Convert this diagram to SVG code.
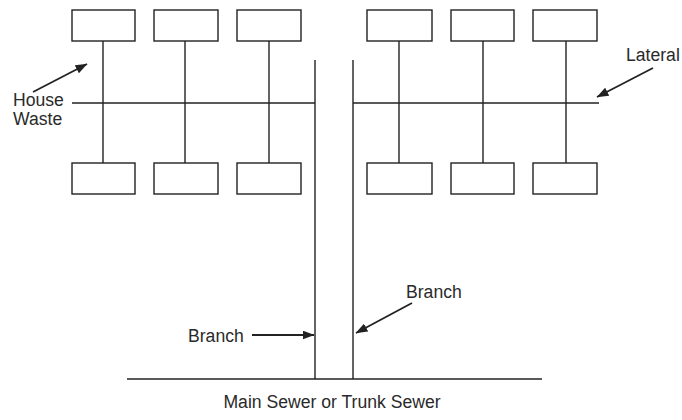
<svg xmlns="http://www.w3.org/2000/svg" width="682" height="420" viewBox="0 0 682 420">
<style>
.box{fill:#fff;stroke:#222;stroke-width:1.4}
.ln{stroke:#222;stroke-width:1.4;fill:none}
.arr{stroke:#222;stroke-width:1.8;fill:none;marker-end:url(#ah)}
text{font-family:"Liberation Sans",Arial,sans-serif;font-size:17.6px;fill:#2a2a2a}
</style>
<defs>
<marker id="ah" viewBox="0 0 12 9" refX="11.5" refY="4.5" markerWidth="12" markerHeight="9" markerUnits="userSpaceOnUse" orient="auto">
<path d="M0,0 L12,4.5 L0,9 z" fill="#222"/>
</marker>
</defs>
<rect width="682" height="420" fill="#fff"/>
<g id="connectors">
<line class="ln" x1="103" y1="41" x2="103" y2="163"/>
<line class="ln" x1="185" y1="41" x2="185" y2="163"/>
<line class="ln" x1="269" y1="41" x2="269" y2="163"/>
<line class="ln" x1="399" y1="41" x2="399" y2="163"/>
<line class="ln" x1="483" y1="41" x2="483" y2="163"/>
<line class="ln" x1="566" y1="41" x2="566" y2="163"/>
<line class="ln" x1="72" y1="103" x2="315" y2="103"/>
<line class="ln" x1="353" y1="103" x2="599" y2="103"/>
<line class="ln" x1="315" y1="60" x2="315" y2="379"/>
<line class="ln" x1="353" y1="60" x2="353" y2="379"/>
<line class="ln" x1="127" y1="379" x2="542" y2="379"/>
<line class="arr" x1="33" y1="92" x2="87" y2="64"/>
<line class="arr" x1="653" y1="68" x2="597" y2="97"/>
<line class="arr" x1="252" y1="335" x2="314" y2="335"/>
<line class="arr" x1="412" y1="303" x2="356" y2="333"/>
</g>
<g id="house1"><rect class="box" x="72" y="10" width="63" height="31"/></g>
<g id="house2"><rect class="box" x="154" y="10" width="64" height="31"/></g>
<g id="house3"><rect class="box" x="237" y="10" width="64" height="31"/></g>
<g id="house4"><rect class="box" x="367" y="10" width="65" height="31"/></g>
<g id="house5"><rect class="box" x="451" y="10" width="63" height="31"/></g>
<g id="house6"><rect class="box" x="533" y="10" width="64" height="31"/></g>
<g id="house7"><rect class="box" x="72" y="163" width="63" height="31"/></g>
<g id="house8"><rect class="box" x="154" y="163" width="64" height="31"/></g>
<g id="house9"><rect class="box" x="237" y="163" width="64" height="31"/></g>
<g id="house10"><rect class="box" x="367" y="163" width="65" height="31"/></g>
<g id="house11"><rect class="box" x="451" y="163" width="63" height="31"/></g>
<g id="house12"><rect class="box" x="533" y="163" width="64" height="31"/></g>
<g id="labels">
<text x="13" y="106">House</text>
<text x="13" y="125">Waste</text>
<text x="626" y="61">Lateral</text>
<text x="188" y="342">Branch</text>
<text x="406" y="298">Branch</text>
<text x="332" y="408" text-anchor="middle">Main Sewer or Trunk Sewer</text>
</g>
</svg>
